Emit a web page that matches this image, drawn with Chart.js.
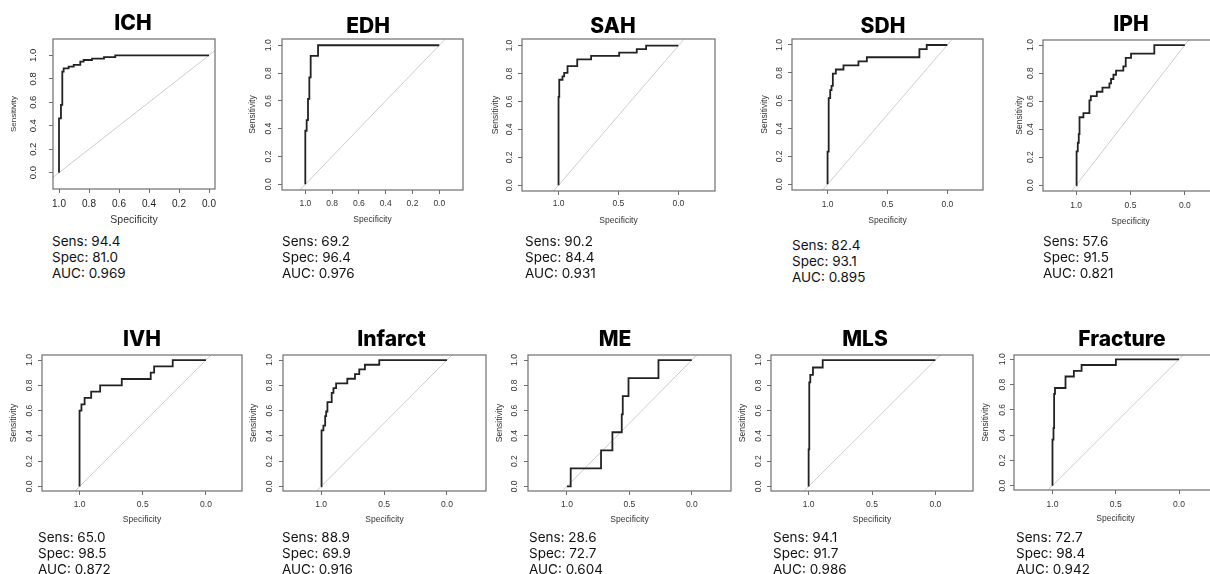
<!DOCTYPE html>
<html>
<head>
<meta charset="utf-8">
<script src="https://cdn.jsdelivr.net/npm/chart.js@4.4.1/dist/chart.umd.min.js"></script>
<style>
html,body{margin:0;padding:0;background:#fff;}
body{position:relative;width:1210px;height:574px;overflow:hidden;}
canvas{position:absolute;}
.ttl{position:absolute;font-family:Inter,'Liberation Sans',sans-serif;font-weight:800;font-size:21px;color:#000;transform:translate(-50%,-50%);white-space:nowrap;line-height:1;}
.sts{position:absolute;font-family:Inter,'Liberation Sans',sans-serif;font-size:13.5px;line-height:16px;color:#111;white-space:nowrap;}
</style>
</head>
<body>
<script>
// ---------------- data ----------------
const categories = ['ICH','EDH','SAH','SDH','IPH','IVH','Infarct','ME','MLS','Fracture'];
const sensPct = [94.4, 69.2, 90.2, 82.4, 57.6, 65.0, 88.9, 28.6, 94.1, 72.7];
const specPct = [81.0, 96.4, 84.4, 93.1, 91.5, 98.5, 69.9, 72.7, 91.7, 98.4];
const aucVal  = [0.969, 0.976, 0.931, 0.895, 0.821, 0.872, 0.916, 0.604, 0.986, 0.942];

const xTicksFine   = [1.0, 0.8, 0.6, 0.4, 0.2, 0.0];
const xTicksCoarse = [1.0, 0.5, 0.0];
const yTickValues  = [0.0, 0.2, 0.4, 0.6, 0.8, 1.0];

const ichSpec = [1.00,1.00,0.987,0.987,0.978,0.978,0.969,0.969,0.936,0.936,0.902,0.902,0.858,0.858,0.836,0.836,0.78,0.78,0.70,0.70,0.625,0.625,0.00];
const ichSens = [0.00,0.463,0.463,0.577,0.577,0.861,0.861,0.889,0.889,0.903,0.903,0.918,0.918,0.946,0.946,0.96,0.96,0.972,0.972,0.985,0.985,1.00,1.00];

const edhSpec = [1.00,1.00,0.99,0.99,0.98,0.98,0.97,0.97,0.96,0.96,0.905,0.905,0.00];
const edhSens = [0.00,0.385,0.385,0.462,0.462,0.615,0.615,0.769,0.769,0.923,0.923,1.00,1.00];

const sahSpec = [1.00,1.00,0.994,0.994,0.967,0.967,0.953,0.953,0.925,0.925,0.844,0.844,0.728,0.728,0.494,0.494,0.347,0.347,0.269,0.269,0.00];
const sahSens = [0.00,0.634,0.634,0.756,0.756,0.780,0.780,0.805,0.805,0.854,0.854,0.902,0.902,0.927,0.927,0.951,0.951,0.976,0.976,1.00,1.00];

const sdhSpec = [1.00,1.00,0.994,0.994,0.989,0.989,0.978,0.978,0.967,0.967,0.956,0.956,0.931,0.931,0.867,0.867,0.742,0.742,0.672,0.672,0.233,0.233,0.172,0.172,0.00];
const sdhSens = [0.00,0.235,0.235,0.50,0.50,0.618,0.618,0.676,0.676,0.706,0.706,0.794,0.794,0.824,0.824,0.853,0.853,0.882,0.882,0.912,0.912,0.971,0.971,1.00,1.00];

const iphSpec = [1.00,1.00,0.994,0.994,0.985,0.985,0.976,0.976,0.969,0.969,0.933,0.933,0.878,0.878,0.865,0.865,0.81,0.81,0.758,0.758,0.694,0.694,0.679,0.679,0.657,0.657,0.633,0.633,0.566,0.566,0.544,0.544,0.495,0.495,0.281,0.281,0.00];
const iphSens = [0.00,0.121,0.121,0.242,0.242,0.303,0.303,0.364,0.364,0.485,0.485,0.515,0.515,0.606,0.606,0.636,0.636,0.667,0.667,0.697,0.697,0.727,0.727,0.758,0.758,0.788,0.788,0.818,0.818,0.848,0.848,0.909,0.909,0.939,0.939,1.00,1.00];

const ivhSpec = [1.00,1.00,0.985,0.985,0.96,0.96,0.908,0.908,0.837,0.837,0.666,0.666,0.437,0.437,0.41,0.41,0.263,0.263,0.00];
const ivhSens = [0.00,0.60,0.60,0.65,0.65,0.70,0.70,0.75,0.75,0.80,0.80,0.85,0.85,0.90,0.90,0.95,0.95,1.00,1.00];

const infSpec = [1.00,1.00,0.995,0.995,0.982,0.982,0.968,0.968,0.96,0.96,0.95,0.95,0.916,0.916,0.902,0.902,0.881,0.881,0.792,0.792,0.731,0.731,0.697,0.697,0.652,0.652,0.538,0.538,0.00];
const infSens = [0.00,0.407,0.407,0.444,0.444,0.481,0.481,0.556,0.556,0.593,0.593,0.667,0.667,0.741,0.741,0.778,0.778,0.815,0.815,0.852,0.852,0.889,0.889,0.926,0.926,0.963,0.963,1.00,1.00];

const meSpec = [1.00,0.97,0.97,0.727,0.727,0.636,0.636,0.561,0.561,0.553,0.553,0.507,0.507,0.267,0.267,0.00];
const meSens = [0.00,0.00,0.143,0.143,0.286,0.286,0.429,0.429,0.571,0.571,0.714,0.714,0.857,0.857,1.00,1.00];

const mlsSpec = [1.00,1.00,0.995,0.995,0.987,0.987,0.966,0.966,0.889,0.889,0.00];
const mlsSens = [0.00,0.294,0.294,0.824,0.824,0.882,0.882,0.941,0.941,1.00,1.00];

const fraSpec = [1.00,1.00,0.992,0.992,0.987,0.987,0.98,0.98,0.897,0.897,0.831,0.831,0.77,0.77,0.499,0.499,0.00];
const fraSens = [0.00,0.364,0.364,0.455,0.455,0.727,0.727,0.773,0.773,0.864,0.864,0.909,0.909,0.955,0.955,1.00,1.00];

const curveSpec = [ichSpec, edhSpec, sahSpec, sdhSpec, iphSpec, ivhSpec, infSpec, meSpec, mlsSpec, fraSpec];
const curveSens = [ichSens, edhSens, sahSens, sdhSens, iphSens, ivhSens, infSens, meSens, mlsSens, fraSens];

// ---------------- layout (positions / styles) ----------------
const layout = [
 {l:53,  t:39,  r:215,  b:189, xmin:-0.04, xmax:1.04,  ymin:-0.139, ymax:1.139, xt:'fine',   tx:133,  ty:22,  sx:52,   sy:241, senX:13.5,  specY:220,   ylabX:33.5,   xlabY:204.5, xf:10,  yf:9.5, xtf:10.5, ytf:8, tc:'#1e1e1e'},
 {l:282, t:39,  r:463,  b:190, xmin:-0.177,xmax:1.174, ymin:-0.041, ymax:1.045, xt:'fine',   tx:368,  ty:25,  sx:282,  sy:241, senX:252.5, specY:220,   ylabX:268.5,  xlabY:204,   xf:8.5, yf:8.5, xtf:8.5, ytf:8.5, tc:'#333'},
 {l:522, t:39,  r:715,  b:191, xmin:-0.306,xmax:1.305, ymin:-0.041, ymax:1.048, xt:'coarse', tx:613,  ty:25,  sx:525,  sy:241, senX:495.7, specY:221,   ylabX:510,    xlabY:203.5, xf:8.5, yf:8.5, xtf:8.5, ytf:8.5, tc:'#333'},
 {l:792, t:39,  r:983,  b:190, xmin:-0.298,xmax:1.297, ymin:-0.041, ymax:1.043, xt:'coarse', tx:883,  ty:25,  sx:792,  sy:245, senX:765,   specY:221,   ylabX:779.5,  xlabY:205,   xf:8.5, yf:8.5, xtf:8.5, ytf:8.5, tc:'#333'},
 {l:1043,t:40,  r:1218, b:191, xmin:-0.305,xmax:1.305, ymin:-0.041, ymax:1.036, xt:'coarse', tx:1131, ty:23,  sx:1043, sy:241, senX:1019.5,specY:221.5, ylabX:1031,   xlabY:206,   xf:8.5, yf:8.5, xtf:8.5, ytf:8.5, tc:'#333'},
 {l:42,  t:355, r:242,  b:491, xmin:-0.285,xmax:1.297, ymin:-0.036, ymax:1.04,  xt:'coarse', tx:142,  ty:338, sx:38,   sy:537, senX:14,    specY:519.5, ylabX:30,     xlabY:505,   xf:8.5, yf:8.5, xtf:8.5, ytf:8.5, tc:'#333'},
 {l:283, t:355, r:486,  b:491, xmin:-0.31, xmax:1.303, ymin:-0.036, ymax:1.04,  xt:'coarse', tx:391.5,ty:338, sx:282,  sy:537, senX:254,   specY:519.5, ylabX:270,    xlabY:505,   xf:8.5, yf:8.5, xtf:8.5, ytf:8.5, tc:'#333'},
 {l:528, t:355, r:731,  b:491, xmin:-0.314,xmax:1.312, ymin:-0.036, ymax:1.04,  xt:'coarse', tx:615,  ty:338, sx:529,  sy:537, senX:500,   specY:519.5, ylabX:515,    xlabY:505,   xf:8.5, yf:8.5, xtf:8.5, ytf:8.5, tc:'#333'},
 {l:771, t:355, r:973,  b:491, xmin:-0.297,xmax:1.297, ymin:-0.036, ymax:1.04,  xt:'coarse', tx:865,  ty:338, sx:773,  sy:537, senX:742.7, specY:519.5, ylabX:758.5,  xlabY:505,   xf:8.5, yf:8.5, xtf:8.5, ytf:8.5, tc:'#333'},
 {l:1014,t:355, r:1217, b:490, xmin:-0.30, xmax:1.304, ymin:-0.034, ymax:1.034, xt:'coarse', tx:1122, ty:338, sx:1016, sy:537, senX:986,   specY:518.5, ylabX:1002.7, xlabY:505,   xf:8.5, yf:8.5, xtf:8.5, ytf:8.5, tc:'#333'}
];

const FF = "'Liberation Sans', Arial, sans-serif";
const mctx = document.createElement('canvas').getContext('2d');
function maxWidth(labels, size){ mctx.font = size + 'px ' + FF; return Math.max(...labels.map(s => mctx.measureText(s).width)); }

const boxPlugin = {
  id: 'rbox',
  afterDatasetsDraw(chart){
    const {ctx, chartArea:a} = chart;
    ctx.save();
    ctx.strokeStyle = '#6e6e6e';
    ctx.lineWidth = 1.2;
    ctx.strokeRect(a.left, a.top, a.right - a.left, a.bottom - a.top);
    ctx.restore();
  }
};

const fmt1 = v => Number(v).toFixed(1);

categories.forEach((name, i) => {
  const L = layout[i];
  const padL = 50, padT = 6, padR = 14, padB = 44;
  const cw = L.r - L.l + padL + padR, ch = L.b - L.t + padT + padB;
  const cv = document.createElement('canvas');
  cv.width = cw; cv.height = ch;
  Object.assign(cv.style, {left:(L.l - padL) + 'px', top:(L.t - padT) + 'px', width:cw + 'px', height:ch + 'px'});
  document.body.appendChild(cv);

  const tl = 4;
  const xt = L.xt === 'fine' ? xTicksFine : xTicksCoarse;
  const yw = maxWidth(yTickValues.map(fmt1), L.yf);
  const yPad = L.l - L.ylabX - tl - yw / 2;
  const xPad = L.xlabY - L.b - tl - 0.6 * L.xf;
  const yTitlePad = L.senX - (L.l - padL) - 0.6 * L.ytf;
  const xTitlePad = (L.b + padB) - L.specY - 0.6 * L.xtf;

  const curve = curveSpec[i].map((s, k) => ({x: s, y: curveSens[i][k]}));
  const diag = [{x: L.xmax, y: 1 - L.xmax}, {x: L.xmin, y: 1 - L.xmin}];

  const gridOpts = {display:true, drawOnChartArea:false, drawTicks:true, tickLength:tl, color:'#6e6e6e', tickColor:'#6e6e6e', lineWidth:1};

  new Chart(cv, {
    type: 'line',
    data: {
      datasets: [
        {label: name, data: curve, borderColor:'#222', borderWidth:1.8, pointRadius:0, tension:0, fill:false},
        {label: 'chance', data: diag, borderColor:'#cdcdcd', borderWidth:1, pointRadius:0, tension:0, fill:false}
      ]
    },
    options: {
      responsive: false,
      animation: false,
      events: [],
      devicePixelRatio: 1,
      layout: {padding: {left:0, top:padT, right:padR, bottom:0}},
      plugins: {legend:{display:false}, tooltip:{enabled:false}, title:{display:false}},
      scales: {
        x: {
          type: 'linear', reverse: true, min: L.xmin, max: L.xmax,
          afterBuildTicks: s => { s.ticks = xt.map(v => ({value: v})); },
          afterFit: s => { s.height = padB; s.paddingLeft = 0; s.paddingRight = 0; },
          grid: gridOpts,
          border: {display:false},
          ticks: {autoSkip:false, maxRotation:0, minRotation:0, padding:xPad, color:L.tc, font:{family:FF, size:L.xf}, callback: v => fmt1(v)},
          title: {display:true, text:'Specificity', color:'#333', font:{family:FF, size:L.xtf}, padding:{top:0, bottom:xTitlePad}}
        },
        y: {
          type: 'linear', min: L.ymin, max: L.ymax,
          afterBuildTicks: s => { s.ticks = yTickValues.map(v => ({value: v})); },
          afterFit: s => { s.width = padL; s.paddingTop = 0; s.paddingBottom = 0; },
          grid: gridOpts,
          border: {display:false},
          ticks: {autoSkip:false, minRotation:90, maxRotation:90, crossAlign:'center', padding:yPad, color:L.tc, font:{family:FF, size:L.yf}, callback: v => fmt1(v)},
          title: {display:true, text:'Sensitivity', color:'#333', font:{family:FF, size:L.ytf}, padding:{top:yTitlePad, bottom:0}}
        }
      }
    },
    plugins: [boxPlugin]
  });

  const t = document.createElement('div');
  t.className = 'ttl';
  t.textContent = name;
  t.style.left = L.tx + 'px'; t.style.top = L.ty + 'px';
  document.body.appendChild(t);

  const st = document.createElement('div');
  st.className = 'sts';
  st.style.left = L.sx + 'px'; st.style.top = (L.sy - 8) + 'px';
  st.innerHTML = 'Sens: ' + sensPct[i].toFixed(1) + '<br>Spec: ' + specPct[i].toFixed(1) + '<br>AUC: ' + aucVal[i].toFixed(3);
  document.body.appendChild(st);
});
</script>
</body>
</html>
